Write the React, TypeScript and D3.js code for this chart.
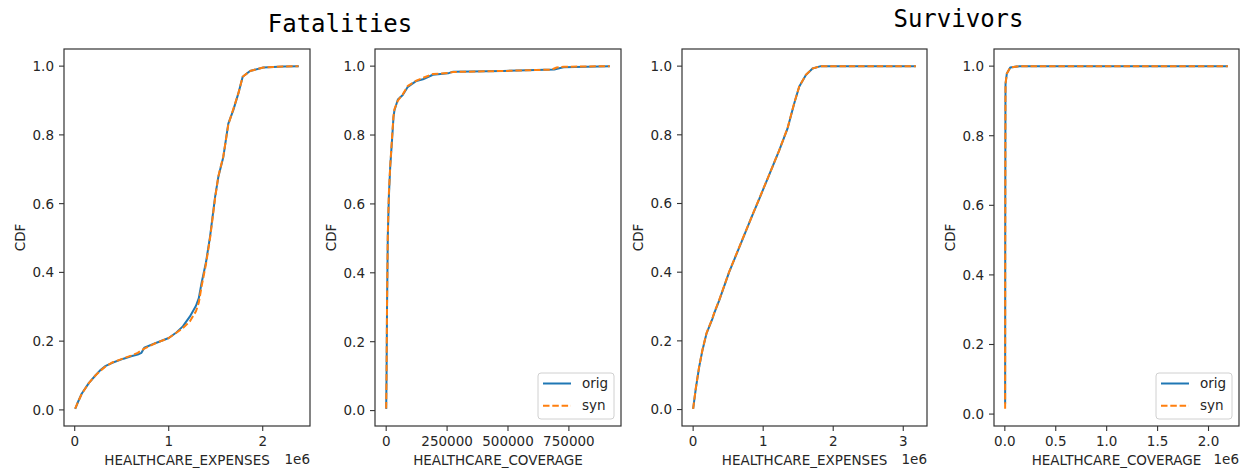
import React from "react";
import * as d3 from "d3";

// Empirical CDFs of healthcare expenses / coverage, original vs synthetic data.
type Pt = [number, number];

const groupTitles = ["Fatalities", "Survivors"];
const seriesNames = ["orig", "syn"];
const seriesColors = ["#1f77b4", "#ff7f0e"];
const axisLabels = ["HEALTHCARE_EXPENSES", "HEALTHCARE_COVERAGE", "HEALTHCARE_EXPENSES", "HEALTHCARE_COVERAGE"];
const yTicks = [0, 0.2, 0.4, 0.6, 0.8, 1.0];

const fatalExpensesOrig: Pt[] = [
  [5000, 0.003], [30000, 0.02], [74000, 0.047], [150000, 0.078], [220000, 0.1], [270000, 0.115],
  [330000, 0.128], [400000, 0.137], [520000, 0.149], [600000, 0.156], [670000, 0.161], [710000, 0.166],
  [740000, 0.181], [850000, 0.193], [1000000, 0.209], [1085000, 0.226], [1150000, 0.243], [1226000, 0.272],
  [1290000, 0.303], [1320000, 0.325], [1350000, 0.37], [1397000, 0.43], [1440000, 0.505], [1493000, 0.619],
  [1528000, 0.678], [1581000, 0.736], [1634000, 0.833], [1687000, 0.872], [1740000, 0.92], [1787000, 0.969],
  [1865000, 0.986], [2006000, 0.996], [2219000, 0.999], [2384000, 1.0],
];
const fatalExpensesSyn: Pt[] = [
  [5000, 0.004], [30000, 0.02], [74000, 0.046], [150000, 0.078], [220000, 0.1], [270000, 0.113],
  [330000, 0.127], [400000, 0.138], [520000, 0.15], [600000, 0.158], [670000, 0.166], [740000, 0.178],
  [850000, 0.193], [1000000, 0.209], [1085000, 0.225], [1150000, 0.238], [1226000, 0.258], [1290000, 0.287],
  [1320000, 0.312], [1350000, 0.36], [1397000, 0.425], [1440000, 0.5], [1493000, 0.615], [1528000, 0.68],
  [1581000, 0.738], [1634000, 0.83], [1687000, 0.875], [1740000, 0.92], [1787000, 0.969], [1865000, 0.986],
  [2006000, 0.996], [2219000, 0.999], [2380000, 1.0],
];

const fatalCoverageOrig: Pt[] = [
  [0, 0.005], [1500, 0.1], [3500, 0.3], [6600, 0.503], [11000, 0.62], [16500, 0.707], [24800, 0.794],
  [30000, 0.852], [34000, 0.872], [48000, 0.903], [68000, 0.916], [89000, 0.94], [124000, 0.957],
  [151000, 0.962], [192000, 0.975], [254000, 0.979], [275000, 0.984], [481000, 0.986], [690000, 0.99],
  [710000, 0.994], [729000, 0.997], [918000, 1.0],
];
const fatalCoverageSyn: Pt[] = [
  [0, 0.006], [1500, 0.11], [3500, 0.31], [6600, 0.51], [11000, 0.63], [16500, 0.71], [24800, 0.8],
  [30000, 0.855], [34000, 0.875], [48000, 0.9], [68000, 0.918], [89000, 0.943], [124000, 0.958],
  [151000, 0.966], [192000, 0.977], [254000, 0.98], [275000, 0.983], [481000, 0.986], [680000, 0.99],
  [700000, 0.996], [729000, 0.998], [918000, 1.0],
];

const survExpensesOrig: Pt[] = [
  [0, 0.002], [38000, 0.061], [86000, 0.124], [133000, 0.173], [190000, 0.221], [276000, 0.265],
  [300000, 0.28], [371000, 0.317], [514000, 0.4], [704000, 0.495], [824000, 0.555], [943000, 0.613],
  [1062000, 0.672], [1229000, 0.755], [1347000, 0.818], [1443000, 0.891], [1514000, 0.94], [1610000, 0.974],
  [1705000, 0.993], [1824000, 1.0], [3180000, 1.0],
];
const survExpensesSyn: Pt[] = [
  [0, 0.002], [38000, 0.062], [86000, 0.125], [133000, 0.174], [190000, 0.222], [276000, 0.266],
  [300000, 0.281], [371000, 0.318], [514000, 0.401], [704000, 0.496], [824000, 0.555], [943000, 0.614],
  [1062000, 0.672], [1229000, 0.755], [1347000, 0.819], [1443000, 0.892], [1514000, 0.94], [1610000, 0.975],
  [1705000, 0.993], [1824000, 1.0], [3180000, 1.0],
];

const survCoverageOrig: Pt[] = [
  [3000, 0.03], [4000, 0.5], [6000, 0.9], [7000, 0.95], [20000, 0.979], [53000, 0.996], [145000, 1.0],
  [2190000, 1.0],
];
const survCoverageSyn: Pt[] = [
  [3000, 0.015], [4000, 0.5], [6000, 0.9], [7000, 0.95], [20000, 0.979], [53000, 0.996], [145000, 1.0],
  [2190000, 1.0],
];

const fatalExpensesTicks = [0, 1e6, 2e6];
const fatalCoverageTicks = [0, 250000, 500000, 750000];
const survExpensesTicks = [0, 1e6, 2e6, 3e6];
const survCoverageTicks = [0, 0.5e6, 1e6, 1.5e6, 2e6];

type Panel = {
  frame: [number, number, number, number];
  series: Pt[][];
  ticks: number[];
  fmt: (v: number) => string;
  offset: string | null;
  label: string;
  legend: boolean;
};

const FONT = "DejaVu Sans, sans-serif";
const FS = 13.5;
const INK = "#262626";

const panels: Panel[] = [
  {
    frame: [64, 49, 310, 426],
    series: [fatalExpensesOrig, fatalExpensesSyn],
    ticks: fatalExpensesTicks,
    fmt: (v) => d3.format("d")(v / 1e6),
    offset: "1e6",
    label: axisLabels[0],
    legend: false,
  },
  {
    frame: [375, 49, 621, 426],
    series: [fatalCoverageOrig, fatalCoverageSyn],
    ticks: fatalCoverageTicks,
    fmt: (v) => d3.format("d")(v),
    offset: null,
    label: axisLabels[1],
    legend: true,
  },
  {
    frame: [682, 49, 927, 426],
    series: [survExpensesOrig, survExpensesSyn],
    ticks: survExpensesTicks,
    fmt: (v) => d3.format("d")(v / 1e6),
    offset: "1e6",
    label: axisLabels[2],
    legend: false,
  },
  {
    frame: [994, 49, 1239, 426],
    series: [survCoverageOrig, survCoverageSyn],
    ticks: survCoverageTicks,
    fmt: (v) => d3.format(".1f")(v / 1e6),
    offset: "1e6",
    label: axisLabels[3],
    legend: true,
  },
];

function padded(values: number[]): [number, number] {
  const [lo, hi] = d3.extent(values) as [number, number];
  const m = (hi - lo) * 0.05;
  return [lo - m, hi + m];
}

function CdfPanel({ p }: { p: Panel }) {
  const [x0, y0, x1, y1] = p.frame;
  const all = p.series.flat();
  const x = d3.scaleLinear().domain(padded(all.map((d) => d[0]))).range([x0, x1]);
  const y = d3.scaleLinear().domain(padded(all.map((d) => d[1]))).range([y1, y0]);
  const line = d3
    .line<Pt>()
    .x((d) => x(d[0]))
    .y((d) => y(d[1]));
  const tickLen = 5;
  const lx = x1 - 7 - 76;
  const ly = y1 - 7 - 46;
  return (
    <g>
      {p.series.map((s, i) => (
        <path
          key={i}
          d={line(s) ?? ""}
          fill="none"
          stroke={seriesColors[i]}
          strokeWidth={2}
          strokeDasharray={i === 1 ? "6.5,2.8" : undefined}
          strokeLinejoin="round"
        />
      ))}
      <rect x={x0} y={y0} width={x1 - x0} height={y1 - y0} fill="none" stroke="#333" strokeWidth={1.2} />
      {yTicks.map((t) => (
        <g key={t}>
          <line x1={x0 - tickLen} x2={x0} y1={y(t)} y2={y(t)} stroke="#333" strokeWidth={1.1} />
          <text x={x0 - tickLen - 5} y={y(t) + 4.9} textAnchor="end" fontFamily={FONT} fontSize={FS} fill={INK}>
            {d3.format(".1f")(t)}
          </text>
        </g>
      ))}
      {p.ticks.map((t) => (
        <g key={t}>
          <line x1={x(t)} x2={x(t)} y1={y1} y2={y1 + tickLen} stroke="#333" strokeWidth={1.1} />
          <text x={x(t)} y={y1 + 20} textAnchor="middle" fontFamily={FONT} fontSize={FS} fill={INK}>
            {p.fmt(t)}
          </text>
        </g>
      ))}
      <text x={(x0 + x1) / 2} y={y1 + 39} textAnchor="middle" fontFamily={FONT} fontSize={FS} fill={INK}>
        {p.label}
      </text>
      {p.offset && (
        <text x={x1} y={y1 + 38} textAnchor="end" fontFamily={FONT} fontSize={FS} fill={INK}>
          {p.offset}
        </text>
      )}
      <text
        transform={`translate(${x0 - 39},${(y0 + y1) / 2}) rotate(-90)`}
        textAnchor="middle"
        fontFamily={FONT}
        fontSize={FS}
        fill={INK}
      >
        CDF
      </text>
      {p.legend && (
        <g>
          <rect x={lx} y={ly} width={76} height={46} rx={3} fill="white" fillOpacity={0.8} stroke="#d0d0d0" strokeWidth={1} />
          {seriesNames.map((n, i) => (
            <g key={n}>
              <line
                x1={lx + 5}
                x2={lx + 33}
                y1={ly + 10.5 + i * 22.3}
                y2={ly + 10.5 + i * 22.3}
                stroke={seriesColors[i]}
                strokeWidth={2}
                strokeDasharray={i === 1 ? "6.5,2.8" : undefined}
              />
              <text x={lx + 44} y={ly + 10.5 + i * 22.3 + 4.3} fontFamily={FONT} fontSize={FS} fill={INK}>
                {n}
              </text>
            </g>
          ))}
        </g>
      )}
    </g>
  );
}

export default function App() {
  return (
    <svg
      width={1244}
      height={470}
      style={{ position: "absolute", left: 0, top: 0, background: "white" }}
    >
      <text x={340} y={32} textAnchor="middle" fontFamily="DejaVu Sans Mono, monospace" fontSize={24} fill="#000">
        {groupTitles[0]}
      </text>
      <text x={958.5} y={27} textAnchor="middle" fontFamily="DejaVu Sans Mono, monospace" fontSize={24} fill="#000">
        {groupTitles[1]}
      </text>
      {panels.map((p, i) => (
        <CdfPanel key={i} p={p} />
      ))}
    </svg>
  );
}
